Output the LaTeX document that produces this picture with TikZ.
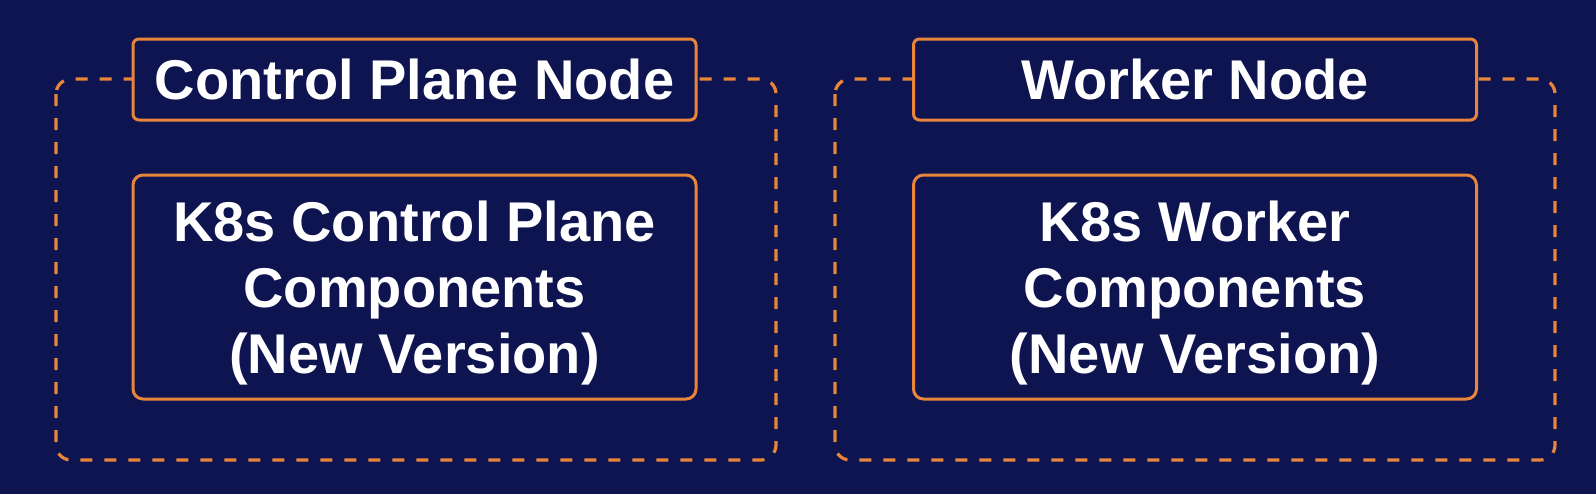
\documentclass[tikz,border=0pt]{standalone}
\usepackage{fontspec}
\setmainfont{Liberation Sans}
\definecolor{navy}{HTML}{0E1450}
\definecolor{accent}{HTML}{E8853A}
\tikzset{
    groupbox/.style={draw=accent, line width=1.6pt, dash pattern=on 6pt off 6pt, rounded corners=7.5pt},
    titlebox/.style={draw=accent, fill=navy, line width=1.5pt, rounded corners=3pt, text=white,
        minimum width=281.5pt, minimum height=40.5pt, font=\bfseries\fontsize{28}{32}\selectfont},
    partbox/.style={draw=accent, fill=navy, line width=1.5pt, rounded corners=5pt,
        minimum width=281.5pt, minimum height=112pt},
    parttext/.style={text=white, align=center, font=\bfseries\fontsize{28}{33}\selectfont}
}
\begin{document}
\begin{tikzpicture}[x=0.5pt, y=-0.5pt]
    \fill[navy] (0,0) rectangle (1596,494);
    \useasboundingbox (0,0) rectangle (1596,494);

    % control plane
    \draw[groupbox] (56,79) rectangle (776,460);
    \node[titlebox] (cptitle) at (414.5,79.5) {Control Plane Node};
    \node[partbox] (cpparts) at (414.5,287) {};
    \node[parttext] (cptext) at ([yshift=-3pt]cpparts.center) {K8s Control Plane\\Components\\(New Version)};

    % worker
    \draw[groupbox] (835,79) rectangle (1555,460);
    \node[titlebox] (wktitle) at (1195,79.5) {Worker Node};
    \node[partbox] (wkparts) at (1195,287) {};
    \node[parttext] (wktext) at ([yshift=-3pt]wkparts.center) {K8s Worker\\Components\\(New Version)};
\end{tikzpicture}
\end{document}
